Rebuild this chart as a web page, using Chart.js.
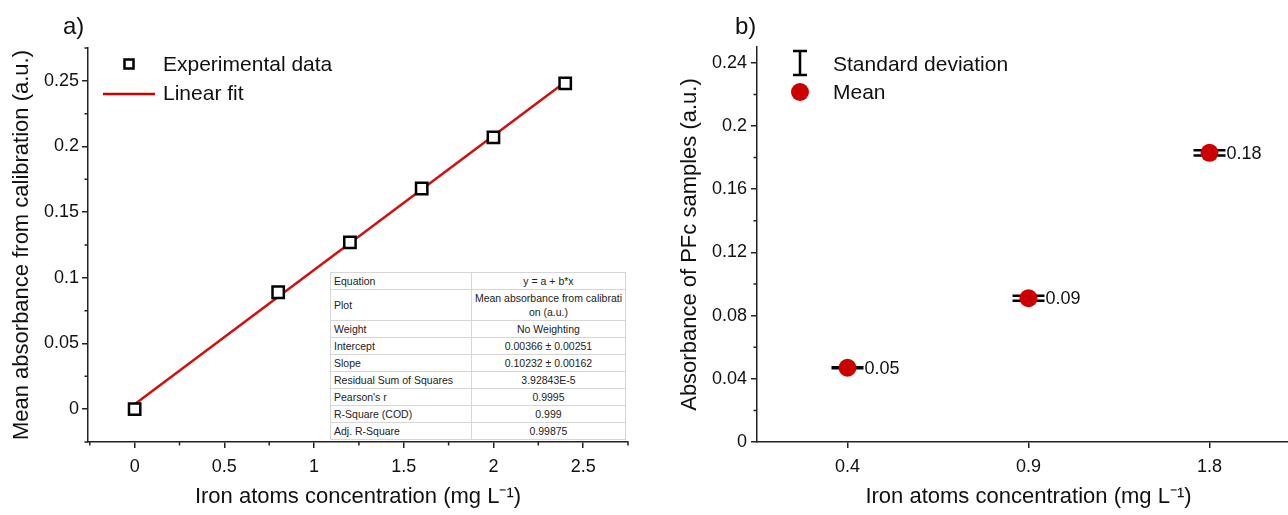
<!DOCTYPE html>
<html>
<head>
<meta charset="utf-8">
<script src="https://cdn.jsdelivr.net/npm/chart.js@4.4.0/dist/chart.umd.min.js"></script>
<style>
html, body { margin: 0; padding: 0; background: #fff; overflow: hidden; width: 1288px; height: 515px; }
#wrapA { position: absolute; left: 0; top: 0; width: 640px; height: 515px; }
#wrapB { position: absolute; left: 640px; top: 0; width: 700px; height: 515px; }
.tag { position: absolute; top: 12px; font: 24px "Liberation Sans", Arial, sans-serif; color: #111; }
#fitTable {
    position: absolute; left: 330px; top: 272px; width: 296px;
    border-collapse: collapse; background: #fff;
    font: 10.5px "Liberation Sans", Arial, sans-serif; color: #222;
    border: 1px solid #999;
}
#fitTable td { border: 1px solid #d6d6d6; padding: 1px 3px; line-height: 14px; white-space: pre; }
#fitTable td:first-child { width: 134px; }
#fitTable td:last-child { text-align: center; }
</style>
</head>
<body>
<div id="wrapA"><canvas id="chartA"></canvas></div>
<div id="wrapB"><canvas id="chartB"></canvas></div>
<div class="tag" style="left:63px">a)</div>
<div class="tag" style="left:735px">b)</div>
<table id="fitTable"></table>
<script>
// a) calibration -----------------------------
const calibConc = [0, 0.8, 1.2, 1.6, 2.0, 2.4];
const calibAbs = [0.000, 0.089, 0.127, 0.168, 0.207, 0.248];
const fitConc = [0, 2.4];
const fitAbs = [0.0037, 0.2492];
const ticksAX = [0, 0.5, 1, 1.5, 2, 2.5];
const minorAX = [-0.25, 0.25, 0.75, 1.25, 1.75, 2.25, 2.75];
const ticksAY = [0, 0.05, 0.1, 0.15, 0.2, 0.25];
const minorAY = [-0.025, 0.025, 0.075, 0.125, 0.175, 0.225, 0.275];

const tableKeys = ["Equation", "Plot", "Weight", "Intercept", "Slope", "Residual Sum of Squares", "Pearson's r", "R-Square (COD)", "Adj. R-Square"];
const tableVals = ["y = a + b*x", "Mean absorbance from calibrati\non (a.u.)", "No Weighting", "0.00366 \u00b1 0.00251", "0.10232 \u00b1 0.00162", "3.92843E-5", "0.9995", "0.999", "0.99875"];

// b) PFc samples -----------------------------
const sampleConc = ["0.4", "0.9", "1.8"];
const sampleMean = [0.047, 0.091, 0.183];
const sampleStd = [0.0003, 0.0016, 0.0016];
const sampleLabel = ["0.05", "0.09", "0.18"];
const ticksBY = [0, 0.04, 0.08, 0.12, 0.16, 0.2, 0.24];
const minorBY = [0.02, 0.06, 0.1, 0.14, 0.18, 0.22];

const FONT = '"Liberation Sans", Arial, sans-serif';
const AXIS = "#222";
const RED = "#cc0000";
const X_TITLE = "Iron atoms concentration (mg L\u207b\u00b9)";

document.getElementById("fitTable").innerHTML = tableKeys
    .map((k, i) => `<tr><td>${k}</td><td>${tableVals[i]}</td></tr>`).join("");

const fmt = (v) => String(+Number(v).toFixed(3));

function axisGrid() {
    return { display: true, drawOnChartArea: false, drawTicks: true, tickLength: 6, color: AXIS, lineWidth: 1.5 };
}

// ticks menores para fora do eixo
const minorTicks = {
    id: "minorTicks",
    afterDraw(chart, args, opts) {
        const ctx = chart.ctx;
        const area = chart.chartArea;
        ctx.save();
        ctx.strokeStyle = AXIS;
        ctx.lineWidth = 1.5;
        ctx.beginPath();
        (opts.x || []).forEach(v => {
            const px = chart.scales.x.getPixelForValue(v);
            ctx.moveTo(px, area.bottom);
            ctx.lineTo(px, area.bottom + 3.5);
        });
        (opts.y || []).forEach(v => {
            const py = chart.scales.y.getPixelForValue(v);
            ctx.moveTo(area.left - 3.5, py);
            ctx.lineTo(area.left, py);
        });
        ctx.stroke();
        ctx.restore();
    }
};

const legendA = {
    id: "legendA",
    afterDraw(chart) {
        const ctx = chart.ctx;
        ctx.save();
        ctx.strokeStyle = "#000";
        ctx.lineWidth = 2.5;
        ctx.strokeRect(124.5, 59.5, 9, 9);
        ctx.strokeStyle = RED;
        ctx.beginPath();
        ctx.moveTo(103, 94);
        ctx.lineTo(155, 94);
        ctx.stroke();
        ctx.fillStyle = "#111";
        ctx.font = `21px ${FONT}`;
        ctx.textBaseline = "middle";
        ctx.fillText("Experimental data", 163, 65);
        ctx.fillText("Linear fit", 163, 94);
        ctx.restore();
    }
};

const errorBars = {
    id: "errorBars",
    beforeDatasetsDraw(chart) {
        const ctx = chart.ctx;
        const meta = chart.getDatasetMeta(0);
        const y = chart.scales.y;
        ctx.save();
        ctx.strokeStyle = "#000";
        ctx.lineWidth = 2.5;
        meta.data.forEach((pt, i) => {
            const top = y.getPixelForValue(sampleMean[i] + sampleStd[i]);
            const bot = y.getPixelForValue(sampleMean[i] - sampleStd[i]);
            ctx.beginPath();
            ctx.moveTo(pt.x, top); ctx.lineTo(pt.x, bot);
            ctx.moveTo(pt.x - 16, top); ctx.lineTo(pt.x + 16, top);
            ctx.moveTo(pt.x - 16, bot); ctx.lineTo(pt.x + 16, bot);
            ctx.stroke();
        });
        ctx.restore();
    },
    afterDatasetsDraw(chart) {
        const ctx = chart.ctx;
        const meta = chart.getDatasetMeta(0);
        ctx.save();
        ctx.fillStyle = "#111";
        ctx.font = `18px ${FONT}`;
        ctx.textBaseline = "middle";
        meta.data.forEach((pt, i) => ctx.fillText(sampleLabel[i], pt.x + 17, pt.y + 1));
        ctx.restore();
    }
};

const legendB = {
    id: "legendB",
    afterDraw(chart) {
        const ctx = chart.ctx;
        ctx.save();
        ctx.strokeStyle = "#000";
        ctx.lineWidth = 2.5;
        ctx.beginPath();
        ctx.moveTo(160, 51); ctx.lineTo(160, 75);
        ctx.moveTo(153, 51); ctx.lineTo(167, 51);
        ctx.moveTo(153, 75); ctx.lineTo(167, 75);
        ctx.stroke();
        ctx.fillStyle = RED;
        ctx.beginPath();
        ctx.arc(160, 92, 9, 0, Math.PI * 2);
        ctx.fill();
        ctx.fillStyle = "#111";
        ctx.font = `21px ${FONT}`;
        ctx.textBaseline = "middle";
        ctx.fillText("Standard deviation", 193, 65);
        ctx.fillText("Mean", 193, 93);
        ctx.restore();
    }
};

document.addEventListener("DOMContentLoaded", () => {
    new Chart(document.getElementById("chartA"), {
        type: "scatter",
        data: {
            datasets: [
                {
                    label: "Experimental data",
                    data: calibConc.map((x, i) => ({ x: x, y: calibAbs[i] })),
                    pointStyle: "rect", pointRadius: 8, borderWidth: 2.5,
                    borderColor: "#000", backgroundColor: "#fff", order: 1,
                },
                {
                    label: "Linear fit",
                    data: fitConc.map((x, i) => ({ x: x, y: fitAbs[i] })),
                    showLine: true, borderColor: "#d01010", borderWidth: 2.5,
                    pointRadius: 0, order: 2,
                },
            ]
        },
        options: {
            responsive: true,
            maintainAspectRatio: false,
            animation: false,
            layout: { padding: { top: 48, right: 12, left: 0, bottom: 0 } },
            plugins: {
                legend: { display: false },
                tooltip: { enabled: false },
                minorTicks: { x: minorAX, y: minorAY },
            },
            scales: {
                x: {
                    type: "linear", min: -0.26, max: 2.75,
                    afterBuildTicks: (s) => { s.ticks = ticksAX.map(v => ({ value: v })); },
                    afterFit: (s) => { s.height = 73; },
                    grid: axisGrid(),
                    border: { color: AXIS, width: 1.5 },
                    ticks: { font: { family: FONT, size: 18 }, color: "#111", padding: 8, maxRotation: 0, callback: fmt },
                    title: { display: true, text: X_TITLE, font: { family: FONT, size: 22 }, color: "#111", padding: { top: 0, bottom: 5 } },
                },
                y: {
                    type: "linear", min: -0.025, max: 0.275,
                    afterBuildTicks: (s) => { s.ticks = ticksAY.map(v => ({ value: v })); },
                    afterFit: (s) => { s.width = 88; },
                    grid: axisGrid(),
                    border: { color: AXIS, width: 1.5 },
                    ticks: { font: { family: FONT, size: 18 }, color: "#111", padding: 3, callback: fmt },
                    title: { display: true, text: "Mean absorbance from calibration (a.u.)", font: { family: FONT, size: 22 }, color: "#111", padding: { top: 9, bottom: 0 } },
                },
            },
        },
        plugins: [minorTicks, legendA],
    });

    new Chart(document.getElementById("chartB"), {
        type: "line",
        data: {
            labels: sampleConc,
            datasets: [{
                label: "Mean",
                data: sampleMean,
                showLine: false,
                pointRadius: 9, pointBorderWidth: 0,
                backgroundColor: RED, borderColor: RED,
            }]
        },
        options: {
            responsive: true,
            maintainAspectRatio: false,
            animation: false,
            layout: { padding: { top: 47, right: 40, left: 0, bottom: 0 } },
            plugins: {
                legend: { display: false },
                tooltip: { enabled: false },
                minorTicks: { y: minorBY },
            },
            scales: {
                x: {
                    type: "category", offset: true,
                    afterFit: (s) => { s.height = 73; },
                    grid: Object.assign(axisGrid(), { offset: false }),
                    border: { color: AXIS, width: 1.5 },
                    ticks: { font: { family: FONT, size: 18 }, color: "#111", padding: 8, maxRotation: 0 },
                    title: { display: true, text: X_TITLE, font: { family: FONT, size: 22 }, color: "#111", padding: { top: 0, bottom: 5 } },
                },
                y: {
                    type: "linear", min: 0, max: 0.25,
                    afterBuildTicks: (s) => { s.ticks = ticksBY.map(v => ({ value: v })); },
                    afterFit: (s) => { s.width = 117; },
                    grid: axisGrid(),
                    border: { color: AXIS, width: 1.5 },
                    ticks: { font: { family: FONT, size: 18 }, color: "#111", padding: 4, callback: fmt },
                    title: { display: true, text: "Absorbance of PFc samples (a.u.)", font: { family: FONT, size: 22 }, color: "#111", padding: { top: 37, bottom: 0 } },
                },
            },
        },
        plugins: [minorTicks, errorBars, legendB],
    });
});
</script>
</body>
</html>
